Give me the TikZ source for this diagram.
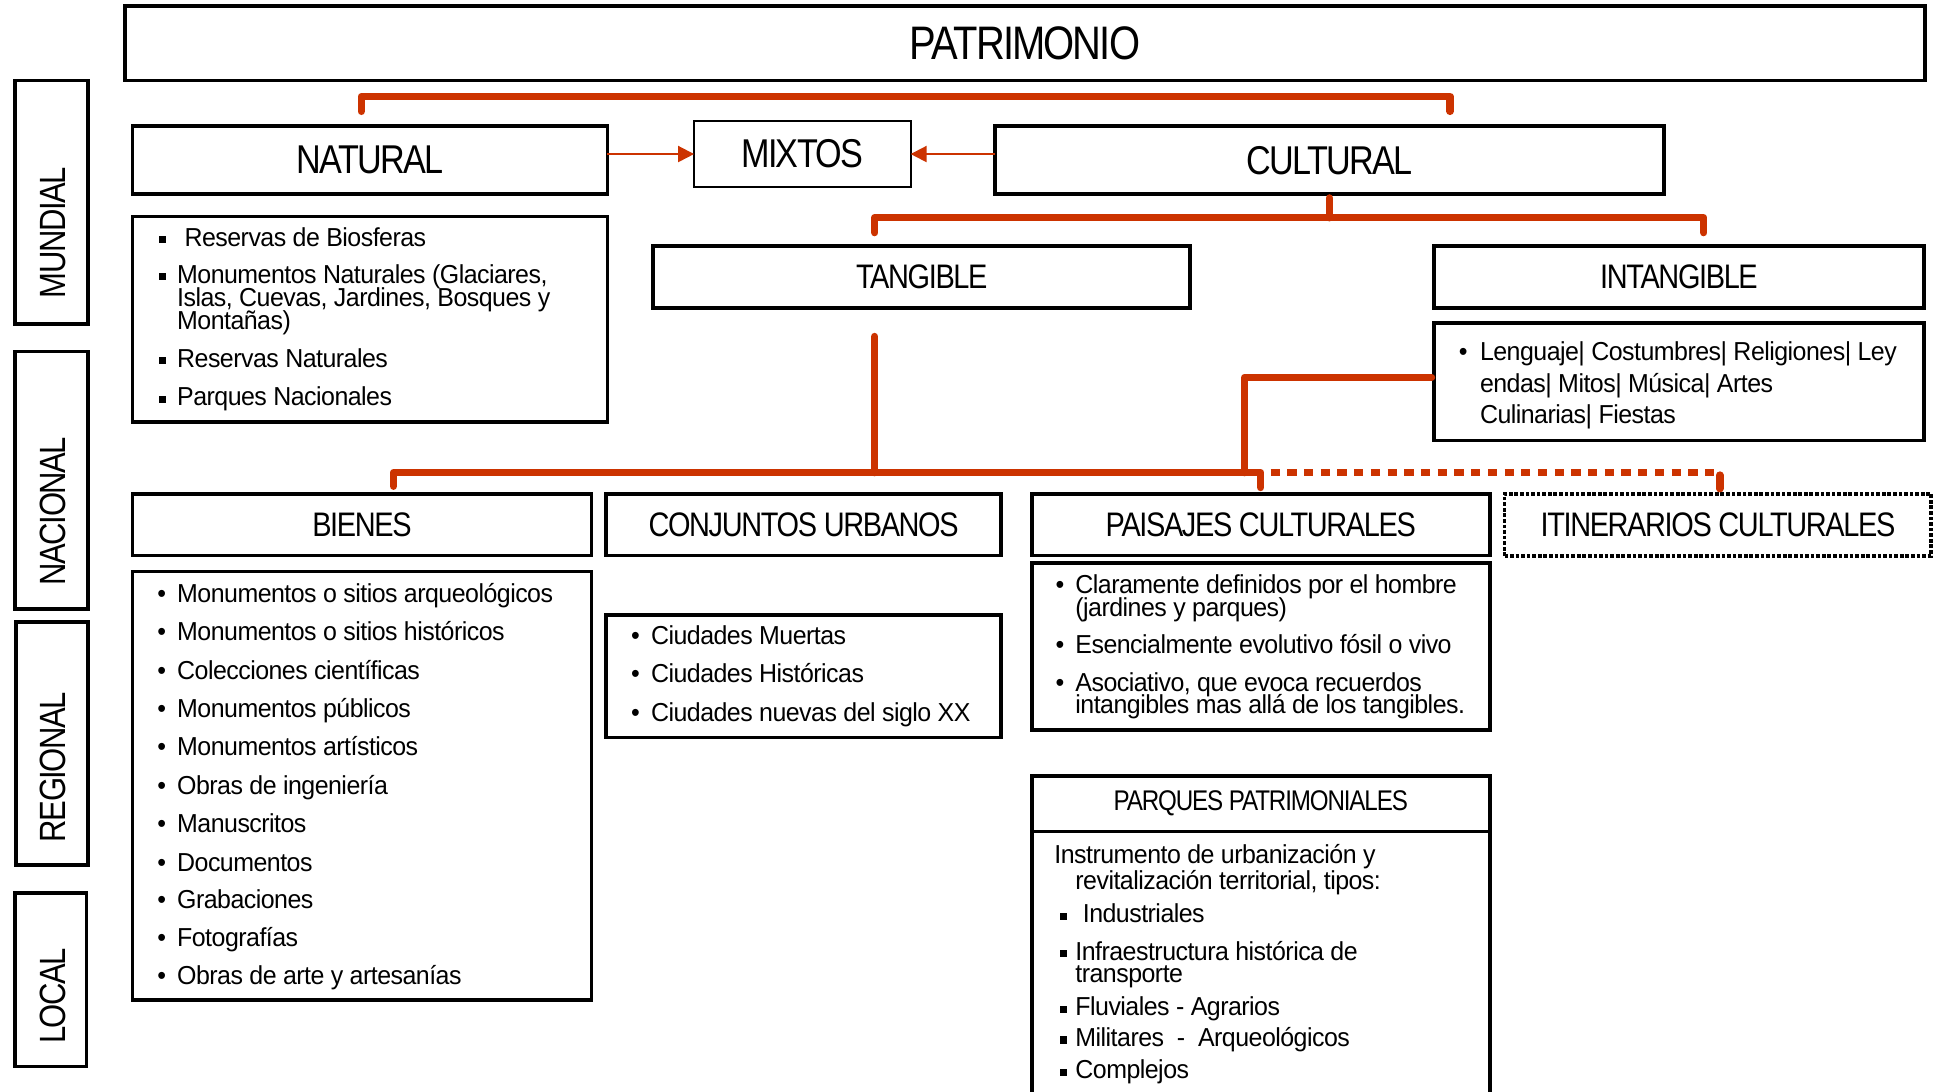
\documentclass[tikz,border=0pt]{standalone}
\usepackage{fontspec}
\setmainfont{Liberation Sans}
\newfontfamily\hdr[FakeStretch=0.85,LetterSpace=-4]{Liberation Sans}
\newfontfamily\bdy[FakeStretch=0.96,LetterSpace=-2]{Liberation Sans}
\usetikzlibrary{arrows.meta}
\definecolor{redc}{RGB}{204,51,0}
\newcommand\rb{\llap{•\hspace{9pt}}}
\newcommand\sqb[1]{\llap{\rule[2.5pt]{5.8pt}{5.8pt}\hspace{#1}}}
\begin{document}
\begin{tikzpicture}[x=1pt,y=-1pt,
  box/.style={draw, line width=3pt, inner sep=0pt, outer sep=0pt},
  thinbox/.style={draw, line width=1.8pt, inner sep=0pt, outer sep=0pt},
  dotbox/.style={draw, line width=3.2pt, dash pattern=on 3pt off 1.5pt, inner sep=0pt, outer sep=0pt},
  fT/.style={font=\hdr\fontsize{38}{40}\selectfont},
  fA/.style={font=\hdr\fontsize{32.5}{34}\selectfont},
  fB/.style={font=\hdr\fontsize{27.5}{30}\selectfont},
  fC/.style={font=\hdr\fontsize{23}{25}\selectfont},
  lvl/.style={font=\hdr\fontsize{29.5}{31}\selectfont, rotate=90, inner sep=0pt},
  itm/.style={anchor=base west, inner sep=0pt, font=\bdy\fontsize{21}{24}\selectfont},
  conn/.style={draw=redc, line width=6pt, line cap=round, line join=round},
  dotconn/.style={draw=redc, line width=6pt, line cap=butt, dash pattern=on 7.5pt off 6pt},
  arr/.style={draw=redc, line width=1.6pt, -{Triangle[length=13pt,width=13pt]}}
]
\useasboundingbox (0,0) rectangle (1568,882);
\fill[white] (0,0) rectangle (1568,882);

% level boxes
\node[box, minimum width=59, minimum height=197] (mundial) at (41.5,163.5) {};
\node[box, minimum width=59, minimum height=208] (nacional) at (41.5,388) {};
\node[box, minimum width=58, minimum height=196] (regional) at (42,601) {};
\node[box, minimum width=58, minimum height=140] (local) at (41,792) {};
\node[lvl] (mundialt) at (43,188) {MUNDIAL};
\node[lvl] (nacionalt) at (43,413) {NACIONAL};
\node[lvl] (regionalt) at (43,620) {REGIONAL};
\node[lvl] (localt) at (43,805) {LOCAL};

% top
\node[box, fT, minimum width=1455, minimum height=60] (patr) at (828.5,35) {PATRIMONIO};
\node[box, fA, minimum width=384, minimum height=55] (natural) at (299,129.5) {NATURAL};
\node[thinbox, fA, minimum width=175, minimum height=53] (mixtos) at (648.5,124.5) {MIXTOS};
\node[box, fA, minimum width=541, minimum height=55] (cultural) at (1074.5,129.5) {CULTURAL};
\node[box, minimum width=384, minimum height=166] (natlist) at (299,258) {};
\node[box, fB, minimum width=434, minimum height=50] (tangible) at (745,224) {TANGIBLE};
\node[box, fB, minimum width=396, minimum height=50] (intangible) at (1357,224) {INTANGIBLE};
\node[box, minimum width=396, minimum height=95] (intlist) at (1357,308.5) {};

% row
\node[box, fB, minimum width=371, minimum height=50] (bienes) at (292.5,424) {BIENES};
\node[box, fB, minimum width=319, minimum height=50] (conj) at (649.5,424) {CONJUNTOS URBANOS};
\node[box, fB, minimum width=370, minimum height=50] (paisajes) at (1019,424) {PAISAJES CULTURALES};
\node[dotbox, fB, minimum width=345, minimum height=50] (itin) at (1388.5,424) {ITINERARIOS CULTURALES};
\node[box, minimum width=371, minimum height=346] (bienlist) at (292.5,635) {};
\node[box, minimum width=319, minimum height=99] (conjlist) at (649.5,546.5) {};
\node[box, minimum width=370, minimum height=135] (paislist) at (1019,522.5) {};
\node[box, fC, minimum width=370, minimum height=45] (parqhdr) at (1019,649.5) {PARQUES PATRIMONIALES};
\draw[line width=3pt] (parqhdr.south west) -- ++(0,240);
\draw[line width=3pt] (parqhdr.south east) -- ++(0,240);

% natural list
\node[itm] (n1) at (149,199) {\sqb{15pt}Reservas de Biosferas};
\node[itm] (n2) at (143,229) {\sqb{9pt}Monumentos Naturales (Glaciares,};
\node[itm] (n3) at (143,248) {Islas, Cuevas, Jardines, Bosques y};
\node[itm] (n4) at (143,266) {Montañas)};
\node[itm] (n5) at (143,297) {\sqb{9pt}Reservas Naturales};
\node[itm] (n6) at (143,328) {\sqb{9pt}Parques Nacionales};

% intangible list
\node[itm] (i1) at (1196,291) {\llap{•\hspace{10pt}}Lenguaje| Costumbres| Religiones| Ley};
\node[itm] (i2) at (1196,317) {endas| Mitos| Música| Artes};
\node[itm] (i3) at (1196,342) {Culinarias| Fiestas};

% bienes list
\foreach \yy/\tx [count=\i] in {480/Monumentos o sitios arqueológicos, 511/Monumentos o sitios históricos,
  542/Colecciones científicas, 573/Monumentos públicos, 604/Monumentos artísticos,
  635/Obras de ingeniería, 666/Manuscritos, 697/Documentos, 727/Grabaciones,
  758/Fotografías, 789/Obras de arte y artesanías}
  \node[itm] (b\i) at (143,\yy+7) {\rb\tx};

% conjuntos list
\foreach \yy/\tx [count=\i] in {514/Ciudades Muertas, 545/Ciudades Históricas, 576/Ciudades nuevas del siglo XX}
  \node[itm] (c\i) at (526,\yy+7) {\rb\tx};

% paisajes list
\node[itm] (p1) at (869,480) {\rb Claramente definidos por el hombre};
\node[itm] (p2) at (869,498) {(jardines y parques)};
\node[itm] (p3) at (869,528) {\rb Esencialmente evolutivo fósil o vivo};
\node[itm] (p4) at (869,559) {\rb Asociativo, que evoca recuerdos};
\node[itm] (p5) at (869,577) {intangibles mas allá de los tangibles.};

% parques list
\node[itm] (q1) at (852,698) {Instrumento de urbanización y};
\node[itm] (q2) at (869,719) {revitalización territorial, tipos:};
\node[itm] (q3) at (875,746) {\sqb{13pt}Industriales};
\node[itm] (q4) at (869,776) {\sqb{7pt}Infraestructura histórica de};
\node[itm] (q5) at (869,794) {transporte};
\node[itm] (q6) at (869,821) {\sqb{7pt}Fluviales - Agrarios};
\node[itm] (q7) at (869,846) {\sqb{7pt}Militares \ - \ Arqueológicos};
\node[itm] (q8) at (869,872) {\sqb{7pt}Complejos};

% connectors
\coordinate (bkL) at (292,90);
\coordinate (bkR) at (1172,90);
\draw[conn] (bkL) -- ++(0,-12) -| (bkR);

\draw[arr] (natural.east |- mixtos.west) -- (mixtos.west);
\draw[arr] (cultural.west |- mixtos.east) -- (mixtos.east);

\coordinate (cL) at (707,188);
\coordinate (cR) at (1377,188);
\draw[conn] ([yshift=-3pt]cultural.south) -- ++(0,16);
\draw[conn] (cL) -- ++(0,-12) -| (cR);

\coordinate (tg) at (707,272);
\coordinate (bL) at (318,393);
\coordinate (pS) at (1019,394);
\coordinate (iS) at (1390,395);
\draw[conn] (tg) -- ++(0,110);
\draw[conn] (bL) -- ++(0,-11) -| (pS);
\draw[conn] ([yshift=3.5pt,xshift=-2pt]intlist.west) -| (1006,382);
\draw[dotconn] (1027,382) -- (1387,382);
\draw[conn] (iS) -- ++(0,-11);
\end{tikzpicture}
\end{document}
